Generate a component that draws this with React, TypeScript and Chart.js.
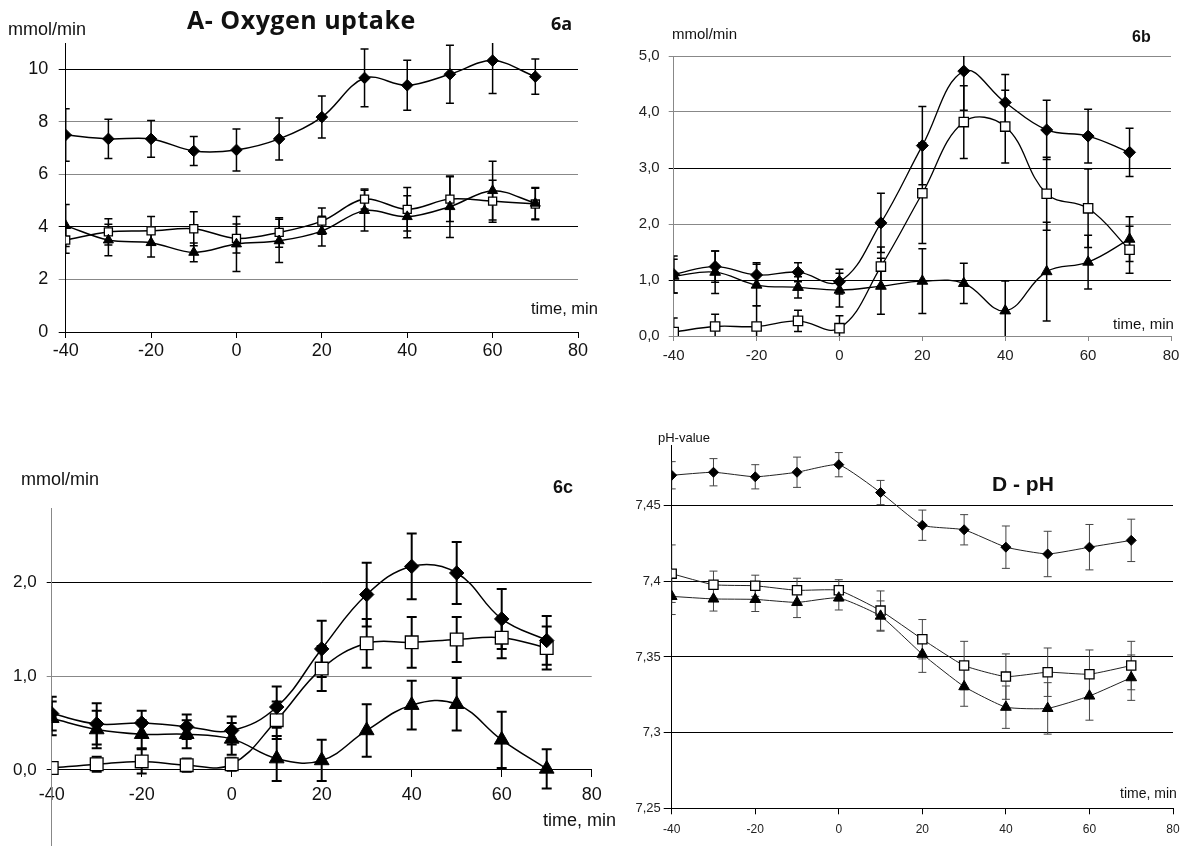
import React, { useEffect, useRef } from "react";
import { Chart, registerables } from "chart.js";
Chart.register(...registerables);

// ---------- shared ----------
const TIME = [-40, -30, -20, -10, 0, 10, 20, 30, 40, 50, 60, 70];
const X_TICKS = [-40, -20, 0, 20, 40, 60, 80];
const X_TICK_LABELS = ["-40", "-20", "0", "20", "40", "60", "80"];

// ---------- Panel A: Oxygen uptake ----------
const A_DIAMOND = [7.5, 7.35, 7.35, 6.89, 6.93, 7.35, 8.18, 9.67, 9.39, 9.81, 10.33, 9.72];
const A_DIAMOND_ERR = [1.0, 0.75, 0.7, 0.55, 0.8, 0.8, 0.8, 1.1, 0.95, 1.1, 1.25, 0.67];
const A_SQUARE = [3.5, 3.81, 3.85, 3.93, 3.56, 3.79, 4.22, 5.06, 4.67, 5.06, 4.98, 4.87];
const A_SQUARE_ERR = [0.5, 0.5, 0.55, 0.65, 0.55, 0.56, 0.5, 0.38, 0.83, 0.85, 0.8, 0.6];
const A_TRIANGLE = [4.05, 3.5, 3.4, 3.03, 3.35, 3.47, 3.84, 4.62, 4.39, 4.77, 5.38, 4.9];
const A_TRIANGLE_ERR = [0.8, 0.6, 0.55, 0.36, 1.05, 0.82, 0.57, 0.78, 0.8, 1.17, 1.12, 0.6];
const A_Y_TICKS = [0, 2, 4, 6, 8, 10];
const A_Y_LABELS = ["0", "2", "4", "6", "8", "10"];

// ---------- Panel B ----------
const B_DIAMOND = [1.1, 1.24, 1.09, 1.14, 0.97, 2.02, 3.4, 4.73, 4.17, 3.68, 3.57, 3.28];
const B_DIAMOND_ERR = [0.33, 0.28, 0.22, 0.17, 0.22, 0.53, 0.7, 0.7, 0.5, 0.53, 0.48, 0.43];
const B_SQUARE = [0.07, 0.17, 0.17, 0.27, 0.14, 1.24, 2.55, 3.82, 3.74, 2.54, 2.28, 1.54];
const B_SQUARE_ERR = [0.25, 0.22, 0.37, 0.19, 0.22, 0.35, 0.9, 0.65, 0.65, 0.65, 0.7, 0.42];
const B_TRIANGLE = [1.07, 1.14, 0.91, 0.87, 0.82, 0.89, 0.98, 0.94, 0.45, 1.15, 1.32, 1.73];
const B_TRIANGLE_ERR = [0.3, 0.38, 0.37, 0.19, 0.3, 0.5, 0.58, 0.36, 0.53, 0.88, 0.48, 0.4];
const B_Y_TICKS = [0, 1, 2, 3, 4, 5];
const B_Y_LABELS = ["0,0", "1,0", "2,0", "3,0", "4,0", "5,0"];

// ---------- Panel C ----------
const C_DIAMOND = [0.6, 0.49, 0.5, 0.46, 0.42, 0.67, 1.29, 1.87, 2.17, 2.1, 1.61, 1.38];
const C_DIAMOND_ERR = [0.18, 0.22, 0.13, 0.13, 0.15, 0.22, 0.3, 0.34, 0.35, 0.33, 0.32, 0.26];
const C_SQUARE = [0.02, 0.06, 0.09, 0.05, 0.06, 0.53, 1.08, 1.35, 1.36, 1.39, 1.41, 1.3];
const C_SQUARE_ERR = [0.05, 0.08, 0.13, 0.07, 0.07, 0.2, 0.24, 0.26, 0.27, 0.24, 0.22, 0.23];
const C_TRIANGLE = [0.55, 0.43, 0.38, 0.38, 0.33, 0.12, 0.1, 0.42, 0.69, 0.7, 0.32, 0.01];
const C_TRIANGLE_ERR = [0.18, 0.2, 0.15, 0.15, 0.17, 0.24, 0.22, 0.28, 0.26, 0.28, 0.3, 0.21];
const C_Y_TICKS = [0, 1, 2];
const C_Y_LABELS = ["0,0", "1,0", "2,0"];

// ---------- Panel D: pH ----------
const D_DIAMOND = [7.47, 7.472, 7.469, 7.472, 7.477, 7.4586, 7.437, 7.434, 7.4225, 7.418, 7.4225, 7.427];
const D_DIAMOND_ERR = [0.009, 0.009, 0.008, 0.01, 0.008, 0.008, 0.01, 0.01, 0.014, 0.015, 0.015, 0.014];
const D_SQUARE = [7.405, 7.3977, 7.397, 7.394, 7.394, 7.3806, 7.3617, 7.3443, 7.337, 7.3399, 7.3386, 7.3443];
const D_SQUARE_ERR = [0.019, 0.009, 0.007, 0.008, 0.007, 0.013, 0.013, 0.016, 0.015, 0.016, 0.016, 0.016];
const D_TRIANGLE = [7.39, 7.3883, 7.388, 7.386, 7.389, 7.377, 7.3518, 7.3304, 7.3168, 7.316, 7.3242, 7.3363];
const D_TRIANGLE_ERR = [0.012, 0.008, 0.008, 0.01, 0.008, 0.01, 0.012, 0.013, 0.014, 0.017, 0.016, 0.015];
const D_Y_TICKS = [7.25, 7.3, 7.35, 7.4, 7.45];
const D_Y_LABELS = ["7,25", "7,3", "7,35", "7,4", "7,45"];

const FONT = '"Liberation Sans", Arial, sans-serif';
Chart.defaults.font.family = FONT;

const errorBarPlugin: any = {
  id: "errorBars",
  beforeDatasetsDraw(chart: any, _args: any, opts: any) {
    const { ctx, chartArea } = chart;
    const yScale = chart.scales.y;
    ctx.save();
    ctx.beginPath();
    ctx.rect(chartArea.left, chartArea.top, chartArea.right - chartArea.left, chartArea.bottom - chartArea.top);
    ctx.clip();
    ctx.strokeStyle = opts.color || "#000";
    ctx.lineWidth = opts.width || 1;
    const cap = opts.cap || 4;
    chart.data.datasets.forEach((ds: any, i: number) => {
      const errs: number[] = ds.errors;
      if (!errs) return;
      const meta = chart.getDatasetMeta(i);
      meta.data.forEach((pt: any, j: number) => {
        const v = ds.data[j].y;
        const e = errs[j];
        const yt = yScale.getPixelForValue(v + e);
        const yb = yScale.getPixelForValue(v - e);
        const x = pt.x;
        ctx.beginPath();
        ctx.moveTo(x, yt);
        ctx.lineTo(x, yb);
        ctx.moveTo(x - cap, yt);
        ctx.lineTo(x + cap, yt);
        ctx.moveTo(x - cap, yb);
        ctx.lineTo(x + cap, yb);
        ctx.stroke();
      });
    });
    ctx.restore();
  },
};

type Series = { values: number[]; errors: number[]; kind: "diamond" | "square" | "triangle" };

type PanelSpec = {
  canvas: { left: number; top: number; w: number; h: number };
  area: { l: number; t: number; r: number; b: number };
  padBottom?: number;
  yMin: number;
  yMax: number;
  yTicks: number[];
  yLabels: string[];
  gridColors: string[];
  yBorder: string;
  xBorder: string;
  yFont: number;
  xFont: number;
  yTickLen: number;
  yPad: number;
  xTickLen: number;
  xPad: number;
  xAtZero?: boolean;
  tickColor: string;
  lineWidth: number;
  lineColor: string;
  tension: number;
  err: { color: string; width: number; cap: number };
  radius: { diamond: number; square: number; triangle: number };
  series: Series[];
};

function buildConfig(p: PanelSpec): any {
  const padTop = p.area.t - p.canvas.top;
  const padRight = p.canvas.left + p.canvas.w - p.area.r;
  const yAxisW = p.area.l - p.canvas.left;
  const xAxisH = p.canvas.top + p.canvas.h - p.area.b;
  const datasets = p.series.map((s) => {
    const style =
      s.kind === "diamond"
        ? { pointStyle: "rectRot", pointRadius: p.radius.diamond, pointBackgroundColor: "#000", pointBorderWidth: 1 }
        : s.kind === "square"
        ? { pointStyle: "rect", pointRadius: p.radius.square, pointBackgroundColor: "#fff", pointBorderWidth: 1.3 }
        : { pointStyle: "triangle", pointRadius: p.radius.triangle, pointBackgroundColor: "#000", pointBorderWidth: 1 };
    return {
      data: TIME.map((t, i) => ({ x: t, y: s.values[i] })),
      errors: s.errors,
      borderColor: p.lineColor,
      borderWidth: p.lineWidth,
      pointBorderColor: "#000",
      tension: p.tension,
      fill: false,
      ...style,
    };
  });
  return {
    type: "line",
    data: { datasets },
    plugins: [errorBarPlugin],
    options: {
      responsive: false,
      animation: false,
      events: [],
      layout: { padding: { left: 0, top: padTop, right: padRight, bottom: p.xAtZero ? p.padBottom || 0 : 0 } },
      plugins: {
        legend: { display: false },
        tooltip: { enabled: false },
        errorBars: p.err,
      },
      scales: {
        x: {
          type: "linear",
          min: -40,
          max: 80,
          position: p.xAtZero ? { y: 0 } : "bottom",
          afterBuildTicks: (axis: any) => {
            axis.ticks = X_TICKS.map((v) => ({ value: v }));
          },
          afterFit: (scale: any) => {
            if (!p.xAtZero) scale.height = xAxisH;
            scale.paddingLeft = 0;
            scale.paddingRight = 0;
            scale.paddingTop = 0;
            scale.paddingBottom = 0;
          },
          grid: {
            drawOnChartArea: false,
            drawTicks: true,
            tickLength: p.xTickLen,
            color: p.xBorder,
            lineWidth: 1,
          },
          border: { display: true, color: p.xBorder, width: 1 },
          ticks: {
            autoSkip: false,
            maxRotation: 0,
            padding: p.xPad,
            color: p.tickColor,
            font: { size: p.xFont, family: FONT },
            callback: (_v: any, i: number) => X_TICK_LABELS[i],
          },
        },
        y: {
          type: "linear",
          min: p.yMin,
          max: p.yMax,
          position: "left",
          afterBuildTicks: (axis: any) => {
            axis.ticks = p.yTicks.map((v) => ({ value: v }));
          },
          afterFit: (scale: any) => {
            scale.width = yAxisW;
            scale.paddingTop = 0;
            scale.paddingBottom = 0;
            scale.paddingLeft = 0;
            scale.paddingRight = 0;
          },
          grid: {
            drawOnChartArea: true,
            drawTicks: true,
            tickLength: p.yTickLen,
            lineWidth: 1,
            color: (ctx: any) => p.gridColors[ctx.index] || "#000",
          },
          border: { display: true, color: p.yBorder, width: 1 },
          ticks: {
            autoSkip: false,
            padding: p.yPad,
            color: p.tickColor,
            font: { size: p.yFont, family: FONT },
            callback: (_v: any, i: number) => p.yLabels[i],
          },
        },
      },
    },
  };
}

const PANEL_A: PanelSpec = {
  canvas: { left: 0, top: 0, w: 590, h: 370 },
  area: { l: 65.7, t: 43, r: 578, b: 332 },
  yMin: 0,
  yMax: 11,
  yTicks: A_Y_TICKS,
  yLabels: A_Y_LABELS,
  gridColors: ["#000", "#888", "#000", "#888", "#888", "#000"],
  yBorder: "#000",
  xBorder: "#000",
  yFont: 18,
  xFont: 18,
  yTickLen: 7,
  yPad: 10.5,
  xTickLen: 6,
  xPad: 2,
  tickColor: "#111",
  lineWidth: 1.5,
  lineColor: "#000",
  tension: 0.35,
  err: { color: "#000", width: 1.5, cap: 4 },
  radius: { diamond: 5.8, square: 5.7, triangle: 5.8 },
  series: [
    { values: A_DIAMOND, errors: A_DIAMOND_ERR, kind: "diamond" },
    { values: A_TRIANGLE, errors: A_TRIANGLE_ERR, kind: "triangle" },
    { values: A_SQUARE, errors: A_SQUARE_ERR, kind: "square" },
  ],
};

const PANEL_B: PanelSpec = {
  canvas: { left: 595, top: 0, w: 588, h: 370 },
  area: { l: 673.7, t: 56, r: 1171, b: 336 },
  yMin: 0,
  yMax: 5,
  yTicks: B_Y_TICKS,
  yLabels: B_Y_LABELS,
  gridColors: ["#888", "#000", "#888", "#000", "#888", "#888"],
  yBorder: "#888",
  xBorder: "#888",
  yFont: 15,
  xFont: 15,
  yTickLen: 5,
  yPad: 9,
  xTickLen: 5,
  xPad: 6,
  tickColor: "#222",
  lineWidth: 1.3,
  lineColor: "#000",
  tension: 0.4,
  err: { color: "#000", width: 1.5, cap: 4 },
  radius: { diamond: 6, square: 6.6, triangle: 6.2 },
  series: [
    { values: B_DIAMOND, errors: B_DIAMOND_ERR, kind: "diamond" },
    { values: B_TRIANGLE, errors: B_TRIANGLE_ERR, kind: "triangle" },
    { values: B_SQUARE, errors: B_SQUARE_ERR, kind: "square" },
  ],
};

const PANEL_C: PanelSpec = {
  canvas: { left: 0, top: 430, w: 610, h: 427 },
  area: { l: 51.7, t: 508.3, r: 591.7, b: 846 },
  padBottom: 0,
  yMin: -0.82,
  yMax: 2.79,
  yTicks: C_Y_TICKS,
  yLabels: C_Y_LABELS,
  gridColors: ["#000", "#888", "#000"],
  yBorder: "#888",
  xBorder: "#000",
  yFont: 17,
  xFont: 18,
  yTickLen: 5,
  yPad: 10,
  xTickLen: 7,
  xPad: 7,
  xAtZero: true,
  tickColor: "#111",
  lineWidth: 1.5,
  lineColor: "#000",
  tension: 0.4,
  err: { color: "#000", width: 2, cap: 5 },
  radius: { diamond: 7.2, square: 9, triangle: 8.5 },
  series: [
    { values: C_TRIANGLE, errors: C_TRIANGLE_ERR, kind: "triangle" },
    { values: C_DIAMOND, errors: C_DIAMOND_ERR, kind: "diamond" },
    { values: C_SQUARE, errors: C_SQUARE_ERR, kind: "square" },
  ],
};

const PANEL_D: PanelSpec = {
  canvas: { left: 600, top: 420, w: 583, h: 426 },
  area: { l: 671.7, t: 445, r: 1173, b: 808.3 },
  yMin: 7.25,
  yMax: 7.49,
  yTicks: D_Y_TICKS,
  yLabels: D_Y_LABELS,
  gridColors: ["#000", "#000", "#000", "#000", "#000"],
  yBorder: "#000",
  xBorder: "#000",
  yFont: 13,
  xFont: 12,
  yTickLen: 8,
  yPad: 3,
  xTickLen: 6,
  xPad: 8,
  tickColor: "#222",
  lineWidth: 1,
  lineColor: "#222",
  tension: 0.15,
  err: { color: "#444", width: 1, cap: 4 },
  radius: { diamond: 5, square: 6.5, triangle: 6.2 },
  series: [
    { values: D_DIAMOND, errors: D_DIAMOND_ERR, kind: "diamond" },
    { values: D_TRIANGLE, errors: D_TRIANGLE_ERR, kind: "triangle" },
    { values: D_SQUARE, errors: D_SQUARE_ERR, kind: "square" },
  ],
};

function Panel({ spec }: { spec: PanelSpec }) {
  const ref = useRef<HTMLCanvasElement>(null);
  useEffect(() => {
    const chart = new Chart(ref.current as HTMLCanvasElement, buildConfig(spec));
    return () => chart.destroy();
  }, [spec]);
  return (
    <canvas
      ref={ref}
      width={spec.canvas.w}
      height={spec.canvas.h}
      style={{
        position: "absolute",
        left: spec.canvas.left,
        top: spec.canvas.top,
        width: spec.canvas.w,
        height: spec.canvas.h,
      }}
    />
  );
}

function Label({ x, cy, size, text, bold, family, spacing }: { x: number; cy: number; size: number; text: string; bold?: boolean; family?: string; spacing?: number }) {
  return (
    <div
      style={{
        position: "absolute",
        left: x,
        top: cy - size / 2,
        fontSize: size,
        lineHeight: 1,
        fontWeight: bold ? 700 : 400,
        fontFamily: family || FONT,
        letterSpacing: spacing || 0,
        whiteSpace: "nowrap",
        color: "#111",
      }}
    >
      {text}
    </div>
  );
}

export default function App() {
  return (
    <div style={{ position: "absolute", left: 0, top: 0, width: 1183, height: 846, background: "#fff", overflow: "hidden" }}>
      <Panel spec={PANEL_A} />
      <Panel spec={PANEL_B} />
      <Panel spec={PANEL_C} />
      <Panel spec={PANEL_D} />

      <Label x={187} cy={19} size={25} bold spacing={0.5} text="A- Oxygen uptake" family='"Open Sans", sans-serif' />
      <Label x={551} cy={23} size={18} bold text="6a" family='"Open Sans", sans-serif' />
      <Label x={8} cy={29} size={18} text="mmol/min" />
      <Label x={531} cy={308} size={16.5} text="time, min" />

      <Label x={672} cy={33} size={15} text="mmol/min" />
      <Label x={1132} cy={37} size={16} bold text="6b" />
      <Label x={1113} cy={323} size={15} text="time, min" />

      <Label x={21} cy={479} size={18} text="mmol/min" />
      <Label x={553} cy={487} size={18} bold text="6c" />
      <Label x={543} cy={820} size={18} text="time, min" />

      <Label x={658} cy={437} size={13} text="pH-value" />
      <Label x={992} cy={483} size={21} bold text="D - pH" />
      <Label x={1120} cy={793} size={14} text="time, min" />
    </div>
  );
}
